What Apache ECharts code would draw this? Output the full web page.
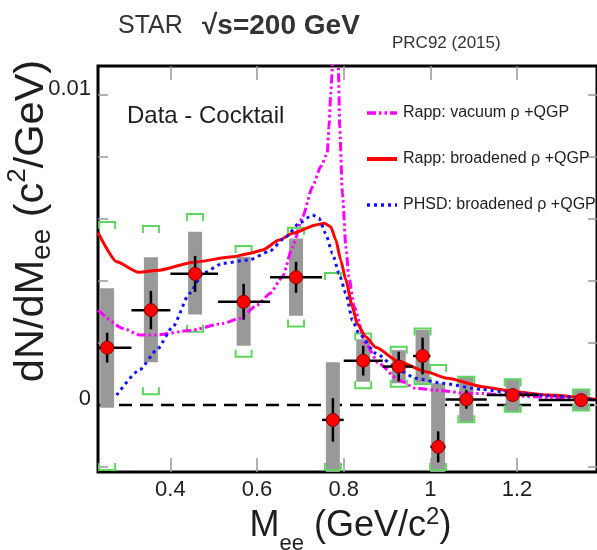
<!DOCTYPE html>
<html><head><meta charset="utf-8">
<script src="https://cdn.jsdelivr.net/npm/echarts@6/dist/echarts.min.js"></script>
<style>html,body{margin:0;padding:0;background:#fff}#c{width:597px;height:550px}</style>
</head><body><div id="c"></div>
<script>
// ---------- data ----------
const mass    = [0.254,0.355,0.457,0.569,0.690,0.775,0.845,0.927,0.982,1.018,1.083,1.190,1.348];
const yieldV  = [0.00185,0.00306,0.00423,0.00333,0.00412,-0.00048,0.00143,0.00124,0.00158,-0.00135,0.00018,0.00032,0.00016];
const binLo   = [0.20,0.31,0.40,0.51,0.63,0.75,0.80,0.89,0.96,1.00,1.035,1.13,1.25];
const binHi   = [0.31,0.40,0.51,0.63,0.75,0.80,0.89,0.96,1.00,1.035,1.13,1.25,1.45];
const statErr = [0.00048,0.00062,0.00058,0.00058,0.0005,0.0007,0.00048,0.00048,0.00059,0.0005,0.0003,0.00015,0.00012];
const sysHi   = [0.00377,0.00477,0.00559,0.00478,0.00537,0.00138,0.00212,0.00177,0.00242,0.0007,0.00091,0.00083,0.00048];
const sysLo   = [-0.00009,0.00138,0.00292,0.00191,0.00288,-0.0025,0.00075,0.0007,0.00072,-0.0025,-0.00054,-0.00022,-0.00016];
const ckHi    = [0.0059,0.00577,0.00616,0.00513,0.00572,0.00426,0.00231,0.00188,0.00247,0.00129,0.00091,0.00083,0.0005];
const ckLo    = [-0.0021,0.00035,0.00236,0.00156,0.00253,-0.0021,0.00054,0.00059,0.00068,-0.0021,-0.00056,-0.00022,-0.00018];

const vacX = [0.233,0.291,0.329,0.368,0.444,0.521,0.560,0.601,0.630,0.659,0.682,0.705,0.728,0.747,0.762,0.766,0.770,0.774,0.7805,0.7876,0.7908,0.797,0.805,0.812,0.824,0.850,0.881,0.927,0.966,1.027,1.080,1.120,1.195,1.272,1.384];
const vacY = [0.00306,0.00247,0.00226,0.00226,0.0024,0.00263,0.0028,0.00323,0.0036,0.00414,0.0051,0.00607,0.00704,0.00769,0.00812,0.00898,0.01005,0.0109,0.0135,0.0109,0.00898,0.00683,0.0051,0.00414,0.00317,0.002,0.00134,0.00081,0.00054,0.00046,0.00038,0.00037,0.00029,0.00025,0.00016];

const broX = [0.233,0.276,0.326,0.375,0.450,0.544,0.582,0.613,0.651,0.682,0.736,0.755,0.770,0.782,0.793,0.805,0.820,0.831,0.851,0.874,0.927,0.990,1.040,1.120,1.195,1.272,1.384];
const broY = [0.00556,0.00462,0.00428,0.00435,0.0046,0.00478,0.00489,0.005,0.00532,0.00554,0.00581,0.00586,0.00575,0.00532,0.00468,0.00403,0.00317,0.00263,0.0022,0.00186,0.0014,0.00107,0.00086,0.00059,0.00043,0.00032,0.00018];

const phsdX = [0.276,0.329,0.368,0.406,0.444,0.475,0.521,0.582,0.628,0.667,0.697,0.728,0.743,0.758,0.774,0.789,0.805,0.820,0.835,0.874,0.927,0.966,1.027,1.119,1.195,1.287,1.384];
const phsdY = [0.00032,0.00113,0.00177,0.00253,0.0036,0.00425,0.00457,0.00468,0.00495,0.00543,0.00586,0.00613,0.00602,0.00554,0.00489,0.00425,0.0036,0.00274,0.00231,0.00167,0.00113,0.00086,0.0007,0.0005,0.00038,0.00029,0.00016];

const seriesNames = ['Rapp: vacuum \u03c1 +QGP','Rapp: broadened \u03c1 +QGP','PHSD: broadened \u03c1 +QGP'];

const xTicks = [0.4,0.6,0.8,1.0,1.2];
const xTickLabels = ['0.4','0.6','0.8','1','1.2'];
const yTicks = [-0.002,0,0.002,0.004,0.006,0.008,0.01];
const yLabelVals = [0,0.01];
const yTickLabels = ['0','0.01'];

// ---------- layout / styles ----------
const xMin = 0.2329, xMax = 1.3846, yMin = -0.002161, yMax = 0.010935;
const FONT = "'Liberation Sans', Arial, sans-serif";
const TXT = '#1e1e1e';
const GREEN = '#5cd65c';
const curveStyles = [
  {color:'#ff00ff', width:3, type:[9,3,2.5,3,2.5,3]},
  {color:'#ff0000', width:3, type:'solid'},
  {color:'#1010ff', width:3, type:[3,4]}
];

const zip = (a,b) => a.map((v,i)=>[v,b[i]]);
const clampY = v => Math.max(yMin, Math.min(yMax, v));
const clampX = v => Math.max(xMin, Math.min(xMax, v));

const mctx = document.createElement('canvas').getContext('2d');
function measure(t, size, bold){ mctx.font = (bold?'bold ':'') + size + 'px ' + FONT; return mctx.measureText(t).width; }
function composite(parts, cx, cy, rotation){
  const total = parts.reduce((s,p)=>s+measure(p.t,p.size,p.bold),0);
  let x = -total/2;
  const children = parts.map(p=>{
    const w = measure(p.t,p.size,p.bold);
    const el = {type:'text', x:x, y:p.dy||0, style:{text:p.t, fontSize:p.size, fontFamily:FONT, fontWeight:p.bold?'bold':'normal', fill:TXT, align:'left', verticalAlign:'middle'}};
    x += w; return el;
  });
  return {type:'group', x:cx, y:cy, rotation:rotation||0, children};
}

// manual legend (line samples + text)
const legendRows = [113, 159, 205];
const legendGraphics = [];
seriesNames.forEach((n,i)=>{
  const s = curveStyles[i];
  legendGraphics.push({type:'line', shape:{x1:367, y1:legendRows[i], x2:397, y2:legendRows[i]},
    style:{stroke:s.color, lineWidth: i===1 ? 4 : 3.5, lineDash: Array.isArray(s.type) ? s.type : null}});
  legendGraphics.push({type:'text', x:403, y:legendRows[i], style:{text:n, fontSize:16, fontFamily:FONT, fill:TXT, align:'left', verticalAlign:'middle'}});
});

const chart = echarts.init(document.getElementById('c'), null, {renderer:'canvas'});
const labelFor = (vals, labels) => v => { const i = vals.findIndex(t=>Math.abs(t-v)<1e-9); return i>=0 ? labels[i] : ''; };

const option = {
  animation:false,
  backgroundColor:'#fff',
  grid:{left:98, right:-2, top:66, bottom:78, show:true, borderColor:'#000', borderWidth:3, backgroundColor:'transparent'},
  xAxis:[
    {type:'value', min:xMin, max:xMax, position:'bottom',
     axisLine:{show:false, onZero:false}, splitLine:{show:false},
     axisTick:{show:true, inside:true, length:14, customValues:xTicks, lineStyle:{color:'#999', width:1.5}},
     axisLabel:{show:true, customValues:xTicks, formatter:labelFor(xTicks,xTickLabels), fontSize:22, fontFamily:FONT, color:TXT, margin:7}},
    {type:'value', min:xMin, max:xMax, position:'top',
     axisLine:{show:false, onZero:false}, splitLine:{show:false},
     axisTick:{show:true, inside:true, length:14, customValues:xTicks, lineStyle:{color:'#999', width:1.5}},
     axisLabel:{show:false}}
  ],
  yAxis:[
    {type:'value', min:yMin, max:yMax, position:'left',
     axisLine:{show:false, onZero:false}, splitLine:{show:false},
     axisTick:{show:true, inside:true, length:10, customValues:yTicks, lineStyle:{color:'#999', width:1.5}},
     axisLabel:{show:true, customValues:yLabelVals, formatter:labelFor(yLabelVals,yTickLabels), fontSize:22, fontFamily:FONT, color:TXT, margin:7, verticalAlign:'bottom', lineHeight:13}},
    {type:'value', min:yMin, max:yMax, position:'right',
     axisLine:{show:false, onZero:false}, splitLine:{show:false},
     axisTick:{show:true, inside:true, length:9, customValues:yTicks, lineStyle:{color:'#999', width:1.5}},
     axisLabel:{show:false}}
  ],
  series:[
    {type:'line', name:'zero', data:[[xMin,0],[xMax,0]], symbol:'none', silent:true, z:1,
     lineStyle:{color:'#000', width:2.5, type:[13,8]}},
    {type:'custom', name:'dataSys', clip:true, z:2, silent:true,
     data: mass.map((m,i)=>[m, sysHi[i], sysLo[i]]),
     renderItem:(params, api)=>{
       const x = api.value(0);
       const pt = api.coord([x, clampY(api.value(1))]), pb = api.coord([x, clampY(api.value(2))]);
       const w = 14;
       return {type:'rect', shape:{x:pt[0]-w/2, y:pt[1], width:w, height:pb[1]-pt[1]}, style:{fill:'#999999'}};
     }},
    {type:'custom', name:'cocktailSys', clip:true, z:3, silent:true,
     data: mass.map((m,i)=>[m, ckHi[i], ckLo[i]]),
     renderItem:(params, api)=>{
       const x = api.value(0);
       const pt = api.coord([x, clampY(api.value(1))]), pb = api.coord([x, clampY(api.value(2))]);
       const w = 16, d = 7, cx = pt[0];
       const st = {stroke:GREEN, fill:'none', lineWidth:2};
       return {type:'group', children:[
         {type:'polyline', shape:{points:[[cx-w/2,pt[1]+d],[cx-w/2,pt[1]],[cx+w/2,pt[1]],[cx+w/2,pt[1]+d]]}, style:st},
         {type:'polyline', shape:{points:[[cx-w/2,pb[1]-d],[cx-w/2,pb[1]],[cx+w/2,pb[1]],[cx+w/2,pb[1]-d]]}, style:st}
       ]};
     }},
    {type:'line', name:seriesNames[0], data:zip(vacX,vacY), symbol:'none', z:4, smooth:0.2, smoothMonotone:'x',
     lineStyle:curveStyles[0]},
    {type:'line', name:seriesNames[1], data:zip(broX,broY), symbol:'none', z:4, smooth:0.2, smoothMonotone:'x',
     lineStyle:curveStyles[1]},
    {type:'line', name:seriesNames[2], data:zip(phsdX,phsdY), symbol:'none', z:4, smooth:0.2, smoothMonotone:'x',
     lineStyle:curveStyles[2]},
    {type:'custom', name:'errors', clip:true, z:5, silent:true,
     data: mass.map((m,i)=>[m, yieldV[i], binLo[i], binHi[i], statErr[i]]),
     renderItem:(params, api)=>{
       const x = api.value(0), y = api.value(1), e = api.value(4);
       const l = api.coord([clampX(api.value(2)), y]), r = api.coord([clampX(api.value(3)), y]);
       const t = api.coord([x, clampY(y+e)]), b = api.coord([x, clampY(y-e)]);
       const st = {stroke:'#000', lineWidth:2.5};
       return {type:'group', children:[
         {type:'line', shape:{x1:l[0], y1:l[1], x2:r[0], y2:r[1]}, style:st},
         {type:'line', shape:{x1:t[0], y1:t[1], x2:b[0], y2:b[1]}, style:st}
       ]};
     }},
    {type:'scatter', name:'data', data:zip(mass,yieldV), symbol:'circle', symbolSize:13, z:6, silent:true,
     itemStyle:{color:'#ff0000', borderColor:'#8a0000', borderWidth:1, opacity:1}}
  ],
  graphic:[
    {type:'text', x:118, y:26, style:{text:'STAR', fontSize:25, fontFamily:FONT, fill:'#333', align:'left', verticalAlign:'middle'}},
    {type:'text', x:202, y:26, style:{text:'\u221As=200 GeV', fontSize:28, fontWeight:'bold', fontFamily:FONT, fill:'#333', align:'left', verticalAlign:'middle'}},
    {type:'text', x:392, y:43, style:{text:'PRC92 (2015)', fontSize:17, fontFamily:FONT, fill:'#333', align:'left', verticalAlign:'middle'}},
    {type:'text', x:127, y:116, style:{text:'Data - Cocktail', fontSize:24, fontFamily:FONT, fill:TXT, align:'left', verticalAlign:'middle'}},
    composite([
      {t:'dN/dM', size:41.5},
      {t:'ee', size:28, dy:10},
      {t:' (c', size:41.5},
      {t:'2', size:26, dy:-14},
      {t:'/GeV)', size:41.5}
    ], 32, 221, Math.PI/2),
    composite([
      {t:'M', size:36},
      {t:'ee', size:22, dy:18},
      {t:' (GeV/c', size:36},
      {t:'2', size:24, dy:-9},
      {t:')', size:36}
    ], 350.5, 526, 0)
  ].concat(legendGraphics)
};
chart.setOption(option);
</script>
</body></html>
